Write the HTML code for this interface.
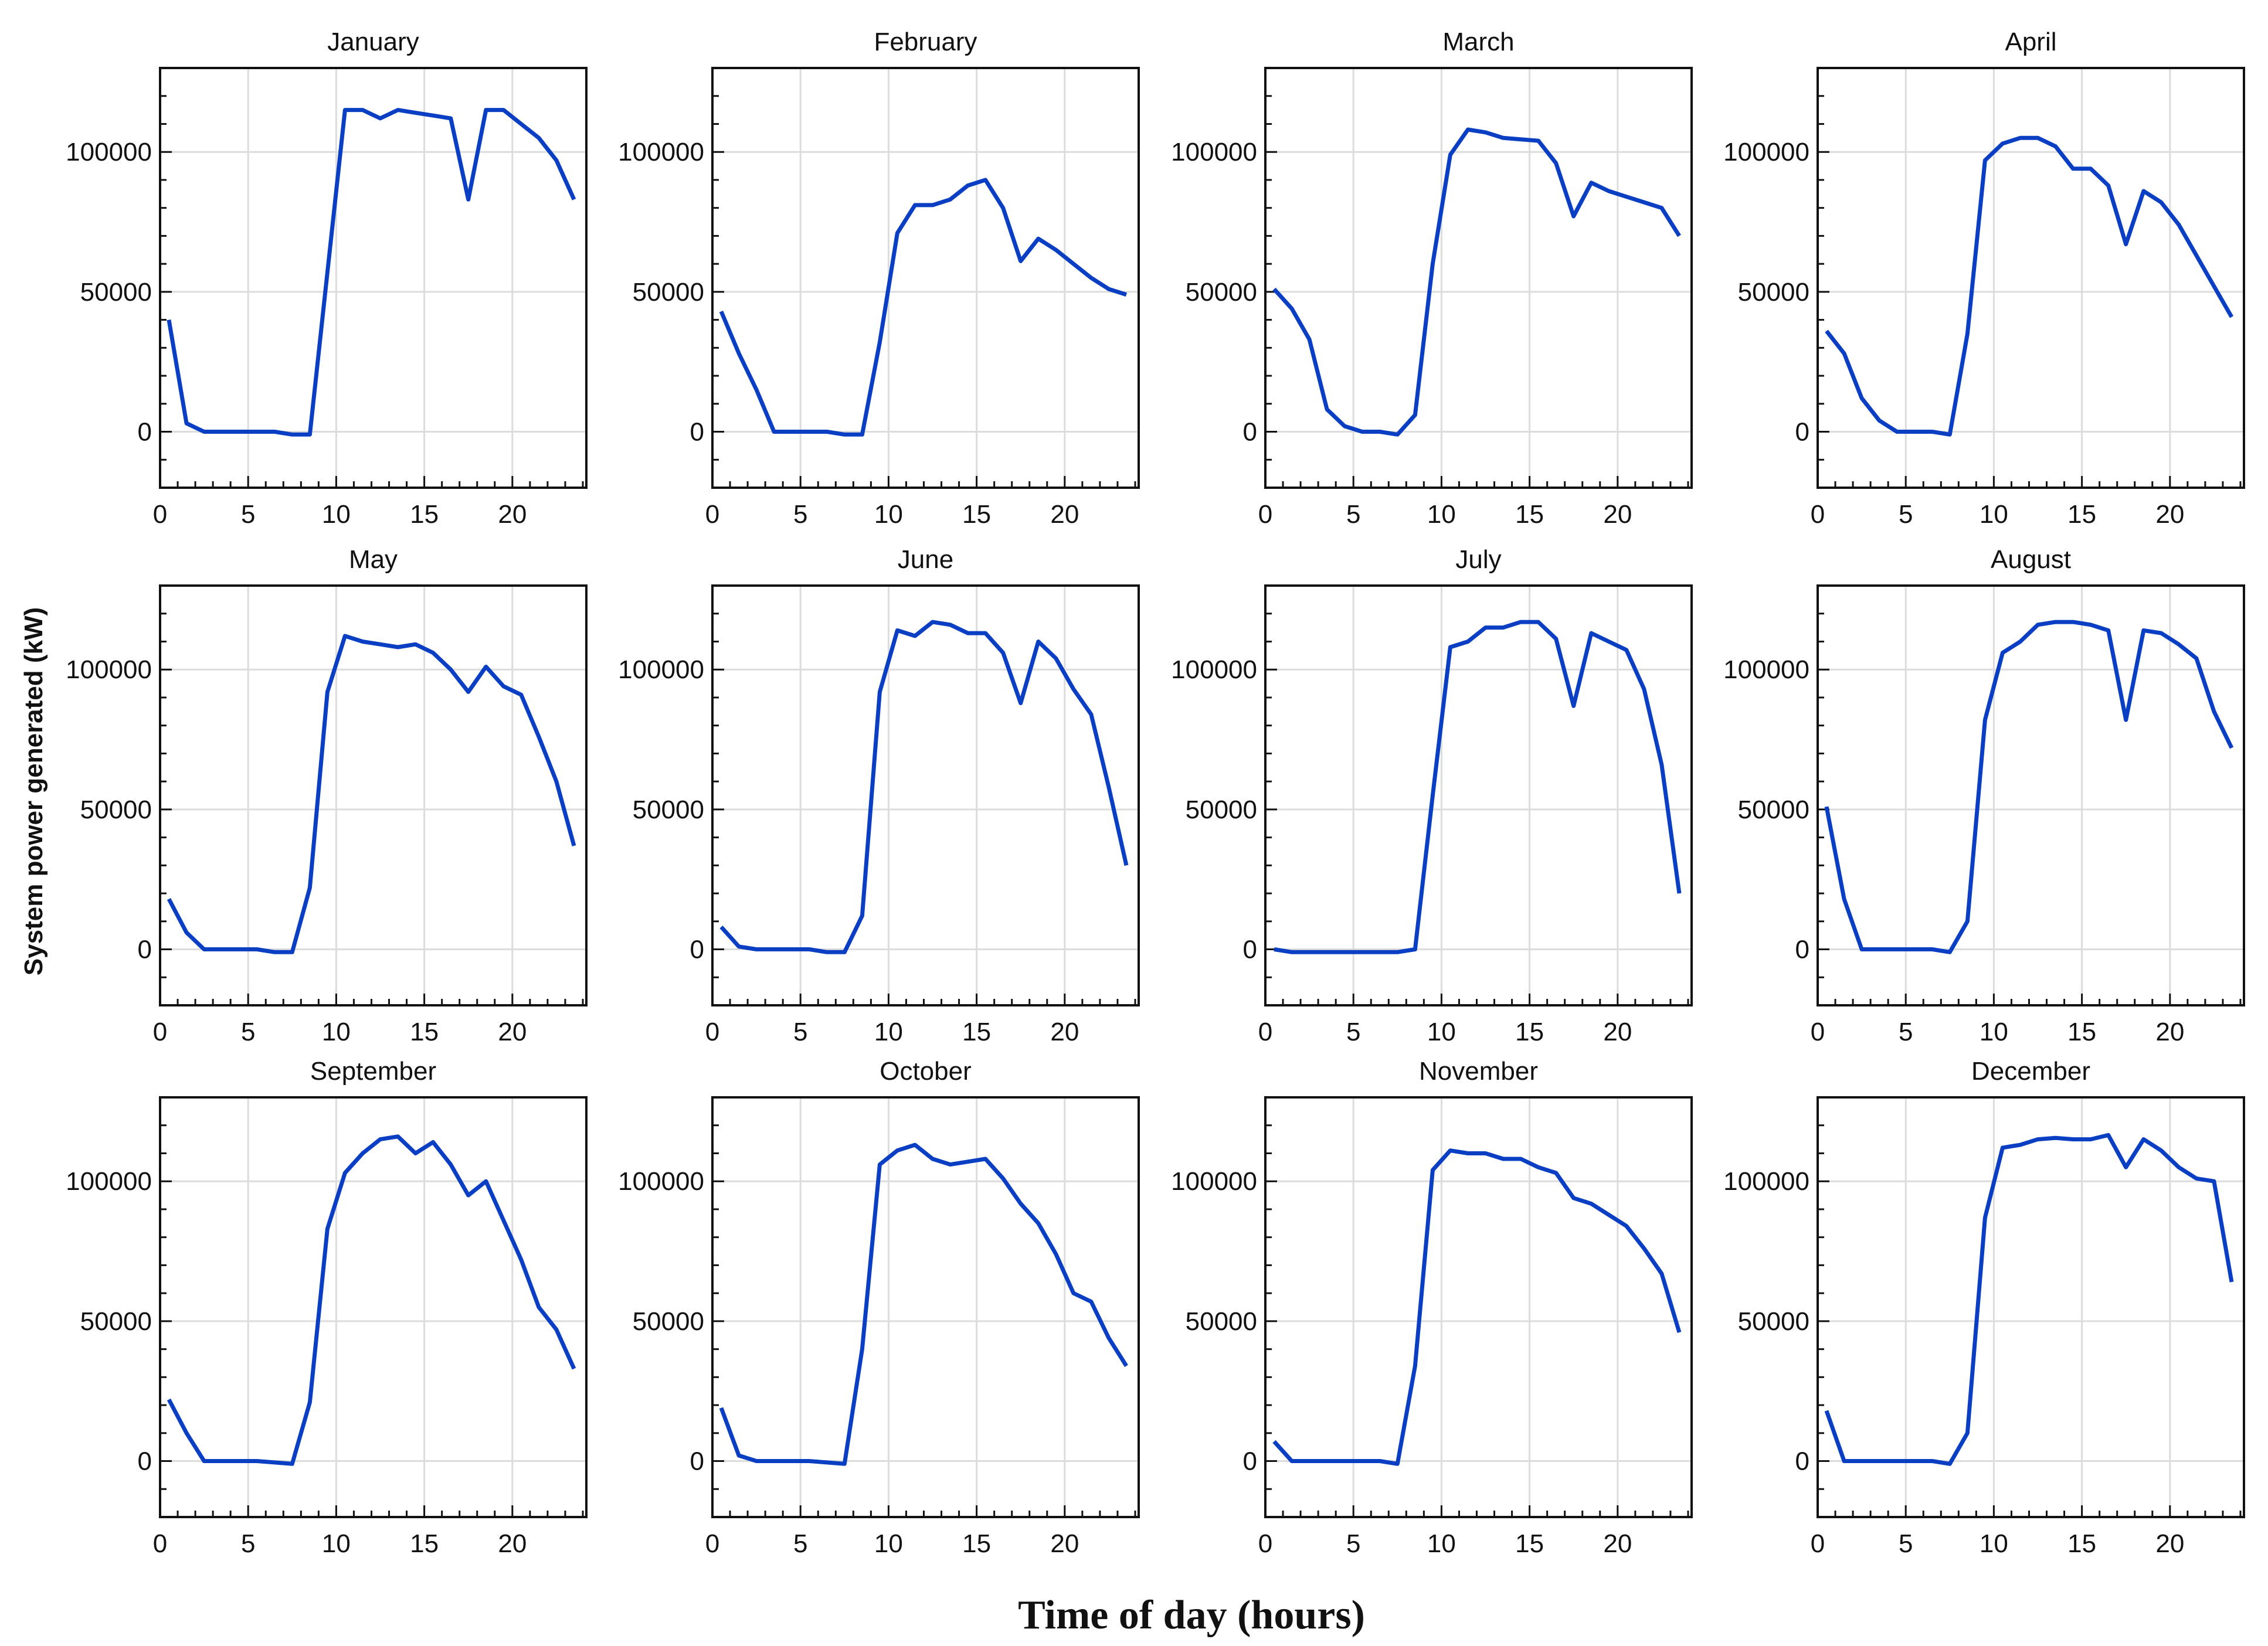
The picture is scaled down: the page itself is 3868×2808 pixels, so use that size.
<!DOCTYPE html>
<html><head><meta charset="utf-8">
<style>
html,body{margin:0;padding:0;background:#fff;}
svg{display:block;}
text{font-family:"Liberation Sans",sans-serif;fill:#111;}
</style></head>
<body>
<svg id="chart" width="3868" height="2808" viewBox="0 0 3868 2808" xmlns="http://www.w3.org/2000/svg">
<text x="0" y="0" transform="translate(72,1350) rotate(-90)" text-anchor="middle" font-size="44" font-weight="bold">System power generated (kW)</text>
<text x="2032" y="2778" text-anchor="middle" font-size="70" font-weight="bold" style="font-family:'Liberation Serif',serif">Time of day (hours)</text>
</svg>
<script>
const months = ["January","February","March","April","May","June","July","August","September","October","November","December"];
const hours = [0.5,1.5,2.5,3.5,4.5,5.5,6.5,7.5,8.5,9.5,10.5,11.5,12.5,13.5,14.5,15.5,16.5,17.5,18.5,19.5,20.5,21.5,22.5,23.5];
const janValues = [40000,3000,0,0,0,0,0,-1000,-1000,57000,115000,115000,112000,115000,114000,113000,112000,83000,115000,115000,110000,105000,97000,83000];
const febValues = [43000,28000,15000,0,0,0,0,-1000,-1000,32000,71000,81000,81000,83000,88000,90000,80000,61000,69000,65000,60000,55000,51000,49000];
const marValues = [51000,44000,33000,8000,2000,0,0,-1000,6000,60000,99000,108000,107000,105000,104500,104000,96000,77000,89000,86000,84000,82000,80000,70000];
const aprValues = [36000,28000,12000,4000,0,0,0,-1000,35000,97000,103000,105000,105000,102000,94000,94000,88000,67000,86000,82000,74000,63000,52000,41000];
const mayValues = [18000,6000,0,0,0,0,-1000,-1000,22000,92000,112000,110000,109000,108000,109000,106000,100000,92000,101000,94000,91000,76000,60000,37000];
const junValues = [8000,1000,0,0,0,0,-1000,-1000,12000,92000,114000,112000,117000,116000,113000,113000,106000,88000,110000,104000,93000,84000,58000,30000];
const julValues = [0,-1000,-1000,-1000,-1000,-1000,-1000,-1000,0,55000,108000,110000,115000,115000,117000,117000,111000,87000,113000,110000,107000,93000,66000,20000];
const augValues = [51000,18000,0,0,0,0,0,-1000,10000,82000,106000,110000,116000,117000,117000,116000,114000,82000,114000,113000,109000,104000,85000,72000];
const sepValues = [22000,10000,0,0,0,0,-500,-1000,21000,83000,103000,110000,115000,116000,110000,114000,106000,95000,100000,86000,72000,55000,47000,33000];
const octValues = [19000,2000,0,0,0,0,-500,-1000,40000,106000,111000,113000,108000,106000,107000,108000,101000,92000,85000,74000,60000,57000,44000,34000];
const novValues = [7000,0,0,0,0,0,0,-1000,34000,104000,111000,110000,110000,108000,108000,105000,103000,94000,92000,88000,84000,76000,67000,46000];
const decValues = [18000,0,0,0,0,0,0,-1000,10000,87000,112000,113000,115000,115500,115000,115000,116500,105000,115000,111000,105000,101000,100000,64000];
const allValues = [janValues,febValues,marValues,aprValues,mayValues,junValues,julValues,augValues,sepValues,octValues,novValues,decValues];
const xTicks = [0,5,10,15,20];
const yTicks = [0,50000,100000];
const yTickLabels = ["0","50000","100000"];

const NS = "http://www.w3.org/2000/svg";
const svg = document.getElementById("chart");
const colLeft = [273,1215,2158,3100];
const rowTop = [116,999,1872];
const W = 727, H = 716;
const X_MAX = 24.2, Y_MIN = -20000, Y_MAX = 130000;
function mk(tag, attrs, parent){const e=document.createElementNS(NS,tag);for(const k in attrs)e.setAttribute(k,attrs[k]);(parent||svg).appendChild(e);return e;}

months.forEach((m, i) => {
  const L = colLeft[i%4], T = rowTop[Math.floor(i/4)];
  const xs = h => L + h / X_MAX * W;
  const ys = v => T + (Y_MAX - v) / (Y_MAX - Y_MIN) * H;
  const g = mk("g", {});
  
  
  const title = mk("text", {x: L + W/2, y: T - 30, "text-anchor": "middle", "font-size": 44}, g);
  title.textContent = m;
  
  
  xTicks.forEach(t => {
    const gl = mk("line", {x1: xs(t), x2: xs(t), y1: T, y2: T+H, stroke: "#dcdcdc", "stroke-width": 3}, g);
    
    
    const lb = mk("text", {x: xs(t), y: T+H+60, "text-anchor": "middle", "font-size": 44}, g);
    lb.textContent = t;
    
    
  });
  yTicks.forEach((t, k) => {
    const gl = mk("line", {x1: L, x2: L+W, y1: ys(t), y2: ys(t), stroke: "#dcdcdc", "stroke-width": 3}, g);
    
    
    const lb = mk("text", {x: L - 14, y: ys(t) + 15, "text-anchor": "end", "font-size": 44}, g);
    lb.textContent = yTickLabels[k];
    
    
  });
  for (let h = 1; h <= 24; h++) {
    const len = h % 5 === 0 ? 20 : 11;
    const tk = mk("line", {x1: xs(h), x2: xs(h), y1: T+H, y2: T+H-len, stroke: "#111", "stroke-width": 3}, g);
    
    
  }
  for (let v = -10000; v <= 120000; v += 10000) {
    const len = v % 50000 === 0 ? 20 : 11;
    const tk = mk("line", {x1: L, x2: L+len, y1: ys(v), y2: ys(v), stroke: "#111", "stroke-width": 3}, g);
    
    
  }
  const fr = mk("rect", {x: L, y: T, width: W, height: H, fill: "none", stroke: "#111", "stroke-width": 4}, g);
  
  
  const pts = hours.map((h, j) => xs(h).toFixed(1) + "," + ys(allValues[i][j]).toFixed(1)).join(" ");
  const pl = mk("polyline", {points: pts, fill: "none", stroke: "#0a3fc4", "stroke-width": 7, "stroke-linejoin": "round"}, g);
  
  
});
</script>
</body></html>
